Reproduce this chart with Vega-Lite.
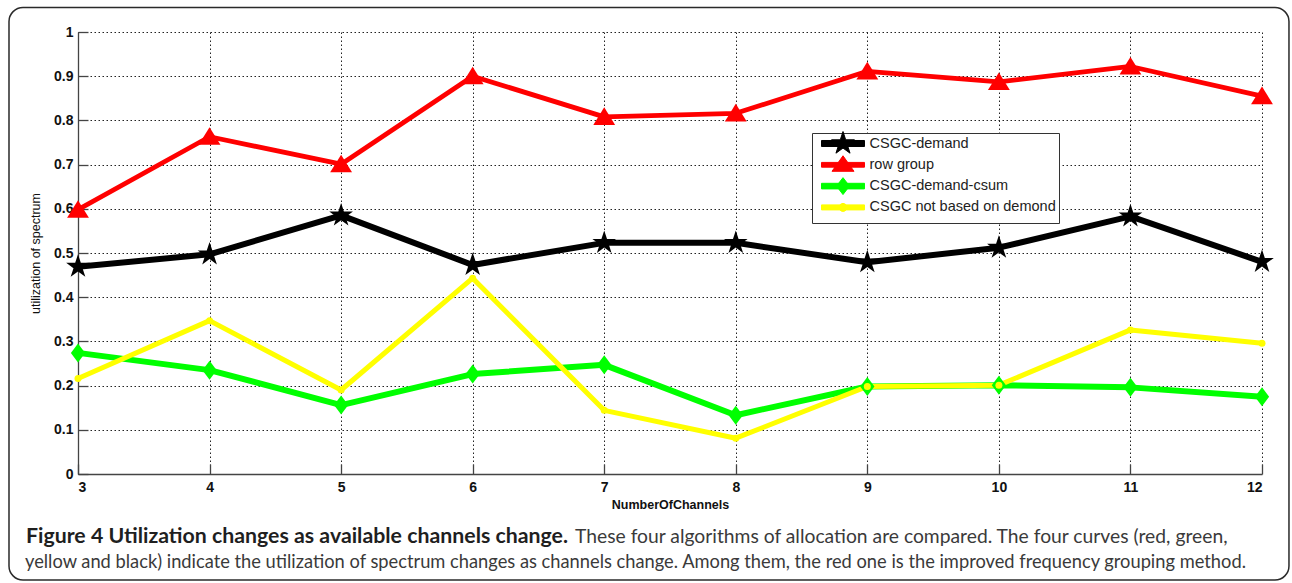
{
  "$schema": "https://vega.github.io/schema/vega-lite/v6.json",
  "width": 1184,
  "height": 442,
  "autosize": {"type": "none"},
  "padding": {"left": 78, "top": 32, "right": 30, "bottom": 109},
  "background": "white",
  "config": {
    "view": {"stroke": null},
    "axis": {
      "grid": true,
      "gridColor": "#222",
      "gridDash": [1.5, 2.5],
      "gridWidth": 1,
      "gridOpacity": 1,
      "domainColor": "#444",
      "domainWidth": 1.3,
      "tickColor": "#444",
      "tickWidth": 1.3,
      "tickSize": -10,
      "labelFont": "Liberation Sans",
      "labelFontSize": 14,
      "labelFontWeight": "bold",
      "labelColor": "#111",
      "titleFont": "Liberation Sans",
      "titleColor": "#111"
    }
  },
  "datasets": {
    "util": [
      {"n": 3, "series": "CSGC-demand", "u": 0.469},
      {"n": 4, "series": "CSGC-demand", "u": 0.497},
      {"n": 5, "series": "CSGC-demand", "u": 0.585},
      {"n": 6, "series": "CSGC-demand", "u": 0.473},
      {"n": 7, "series": "CSGC-demand", "u": 0.523},
      {"n": 8, "series": "CSGC-demand", "u": 0.523},
      {"n": 9, "series": "CSGC-demand", "u": 0.479},
      {"n": 10, "series": "CSGC-demand", "u": 0.512},
      {"n": 11, "series": "CSGC-demand", "u": 0.583},
      {"n": 12, "series": "CSGC-demand", "u": 0.48},
      {"n": 3, "series": "row group", "u": 0.598},
      {"n": 4, "series": "row group", "u": 0.763},
      {"n": 5, "series": "row group", "u": 0.701},
      {"n": 6, "series": "row group", "u": 0.9},
      {"n": 7, "series": "row group", "u": 0.808},
      {"n": 8, "series": "row group", "u": 0.816},
      {"n": 9, "series": "row group", "u": 0.911},
      {"n": 10, "series": "row group", "u": 0.887},
      {"n": 11, "series": "row group", "u": 0.922},
      {"n": 12, "series": "row group", "u": 0.855},
      {"n": 3, "series": "CSGC-demand-csum", "u": 0.274},
      {"n": 4, "series": "CSGC-demand-csum", "u": 0.235},
      {"n": 5, "series": "CSGC-demand-csum", "u": 0.156},
      {"n": 6, "series": "CSGC-demand-csum", "u": 0.226},
      {"n": 7, "series": "CSGC-demand-csum", "u": 0.247},
      {"n": 8, "series": "CSGC-demand-csum", "u": 0.133},
      {"n": 9, "series": "CSGC-demand-csum", "u": 0.198},
      {"n": 10, "series": "CSGC-demand-csum", "u": 0.201},
      {"n": 11, "series": "CSGC-demand-csum", "u": 0.196},
      {"n": 12, "series": "CSGC-demand-csum", "u": 0.175},
      {"n": 3, "series": "CSGC not based on demond", "u": 0.216},
      {"n": 4, "series": "CSGC not based on demond", "u": 0.347},
      {"n": 5, "series": "CSGC not based on demond", "u": 0.19},
      {"n": 6, "series": "CSGC not based on demond", "u": 0.443},
      {"n": 7, "series": "CSGC not based on demond", "u": 0.144},
      {"n": 8, "series": "CSGC not based on demond", "u": 0.081},
      {"n": 9, "series": "CSGC not based on demond", "u": 0.198},
      {"n": 10, "series": "CSGC not based on demond", "u": 0.201},
      {"n": 11, "series": "CSGC not based on demond", "u": 0.326},
      {"n": 12, "series": "CSGC not based on demond", "u": 0.296}
    ]
  },
  "data": {"name": "util"},
  "layer": [
    {
      "data": {"values": [{}]},
      "mark": {"type": "rect", "fill": null, "stroke": "#2a2a2a", "strokeWidth": 1.5, "cornerRadius": 14},
      "encoding": {
        "x": {"datum": 2.4755, "type": "quantitative"},
        "x2": {"datum": 12.205},
        "y": {"datum": 1.0554, "type": "quantitative"},
        "y2": {"datum": -0.2398}
      }
    },
    {
      "mark": {"type": "line", "strokeJoin": "round"},
      "encoding": {
        "x": {
          "field": "n",
          "type": "quantitative",
          "scale": {"domain": [3, 12], "nice": false, "zero": false},
          "axis": {
            "values": [3, 4, 5, 6, 7, 8, 9, 10, 11, 12],
            "format": "d",
            "labelPadding": 16,
            "title": "NumberOfChannels",
            "titleFontSize": 12.5,
            "titleFontWeight": "bold",
            "titlePadding": 4
          }
        },
        "y": {
          "field": "u",
          "type": "quantitative",
          "scale": {"domain": [0, 1], "nice": false, "zero": true},
          "axis": {
            "values": [0, 0.1, 0.2, 0.3, 0.4, 0.5, 0.6, 0.7, 0.8, 0.9, 1],
            "format": "~g",
            "labelPadding": 15,
            "title": "utilization of spectrum",
            "titleFontSize": 12.5,
            "titleFontWeight": "normal",
            "titlePadding": 11
          }
        },
        "color": {
          "field": "series",
          "type": "nominal",
          "scale": {
            "domain": ["CSGC-demand", "row group", "CSGC-demand-csum", "CSGC not based on demond"],
            "range": ["#000000", "#ff0000", "#00ff00", "#ffff00"]
          },
          "legend": {
            "title": null,
            "orient": "none",
            "legendX": 734,
            "legendY": 101,
            "direction": "vertical",
            "padding": 3,
            "strokeColor": "#333",
            "fillColor": "white",
            "symbolType": {"expr": "(datum.value === 'CSGC-demand' ? 'M-3.07,-0.43H3.07V0.43H-3.07Z M0,-1.71L0.384,-0.529L1.627,-0.529L0.621,0.202L1.006,1.384L0,0.653L-1.006,1.384L-0.621,0.202L-1.627,-0.529L-0.384,-0.529Z' : datum.value === 'row group' ? 'M-3.07,-0.34H3.07V0.34H-3.07Z M0,-1.29L1.57,0.93L-1.57,0.93Z' : datum.value === 'CSGC-demand-csum' ? 'M-3.07,-0.4H3.07V0.4H-3.07Z M0,-1.21L0.93,0L0,1.21L-0.93,0Z' : 'M-3.07,-0.36H3.07V0.36H-3.07Z M-0.57,0A0.57,0.57 0 1,1 0.57,0A0.57,0.57 0 1,1 -0.57,0Z') + ' M0,-1.72L0,-1.72 M0,1.43L0,1.43'"},
            "symbolFillColor": {"expr": "scale('color', datum.value)"},
            "symbolSize": 196,
            "symbolStrokeWidth": 1,
            "symbolOpacity": 1,
            "symbolOffset": 20.5,
            "labelOffset": 19,
            "labelFont": "Liberation Sans",
            "labelFontSize": 14.5,
            "labelColor": "#222",
            "labelLimit": 400,
            "rowPadding": -5.7
          }
        },
        "strokeWidth": {
          "field": "series",
          "type": "nominal",
          "sort": ["CSGC-demand", "row group", "CSGC-demand-csum", "CSGC not based on demond"],
          "scale": {
            "type": "ordinal",
            "range": [6, 4.8, 6, 5]
          },
          "legend": null
        }
      }
    },
    {
      "mark": {"type": "point", "filled": true, "opacity": 1},
      "encoding": {
        "x": {"field": "n", "type": "quantitative"},
        "y": {"field": "u", "type": "quantitative"},
        "color": {"field": "series", "type": "nominal", "legend": null},
        "shape": {
          "field": "series",
          "type": "nominal",
          "sort": ["CSGC-demand", "row group", "CSGC-demand-csum", "CSGC not based on demond"],
          "scale": {
            "range": [
              "M0,-1L0.225,-0.309L0.951,-0.309L0.363,0.118L0.588,0.809L0,0.382L-0.588,0.809L-0.363,0.118L-0.951,-0.309L-0.225,-0.309Z",
              "M0,-1L1.15,0.85L-1.15,0.85Z",
              "M0,-1L0.75,0L0,1L-0.75,0Z",
              "circle"
            ]
          },
          "legend": null
        },
        "size": {
          "field": "series",
          "type": "nominal",
          "sort": ["CSGC-demand", "row group", "CSGC-demand-csum", "CSGC not based on demond"],
          "scale": {
            "type": "ordinal",
            "range": [620, 361, 361, 49]
          },
          "legend": null
        }
      }
    },
    {
      "data": {"values": [{}]},
      "mark": {"type": "text", "text": "Figure 4 Utilization changes as available channels change.", "font": "Lato", "fontSize": 21.3, "fontWeight": "bold", "fill": "#1f1f1f", "align": "left", "baseline": "alphabetic"},
      "encoding": {
        "x": {"datum": 2.6047, "type": "quantitative"},
        "y": {"datum": -0.1561, "type": "quantitative"}
      }
    },
    {
      "data": {"values": [{}]},
      "mark": {"type": "text", "text": "These four algorithms of allocation are compared. The four curves (red, green,", "font": "Lato", "fontSize": 19.3, "fill": "#3a3a3a", "align": "left", "baseline": "alphabetic"},
      "encoding": {
        "x": {"datum": 6.778, "type": "quantitative"},
        "y": {"datum": -0.1561, "type": "quantitative"}
      }
    },
    {
      "data": {"values": [{}]},
      "mark": {"type": "text", "text": "yellow and black) indicate the utilization of spectrum changes as channels change. Among them, the red one is the improved frequency grouping method.", "font": "Lato", "fontSize": 18.3, "fill": "#3a3a3a", "align": "left", "baseline": "alphabetic"},
      "encoding": {
        "x": {"datum": 2.597, "type": "quantitative"},
        "y": {"datum": -0.2127, "type": "quantitative"}
      }
    }
  ]
}
